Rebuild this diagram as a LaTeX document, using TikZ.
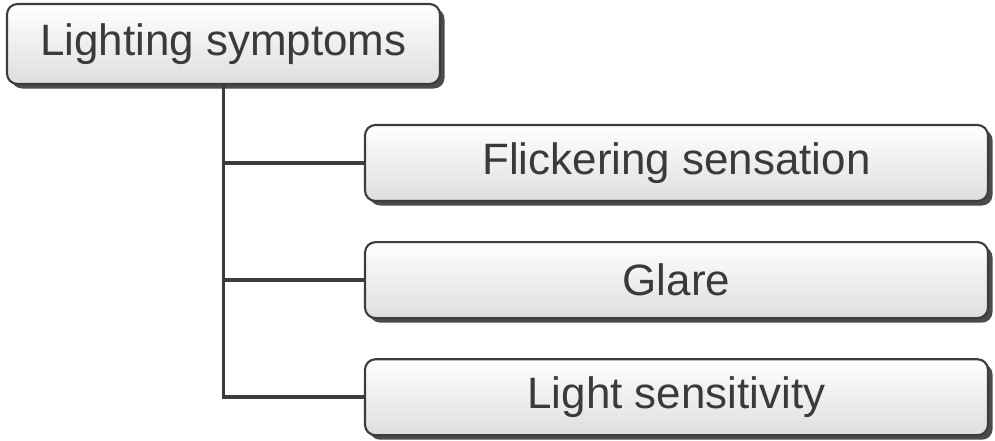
\documentclass[tikz,border=0pt]{standalone}
\usepackage{fontspec}
\setmainfont{Liberation Sans}
\usepackage{tikz}
\usetikzlibrary{positioning, shadows}
\definecolor{cText}{RGB}{58,58,58}
\definecolor{cEdge}{RGB}{60,60,60}
\definecolor{cShade}{RGB}{222,222,224}
\definecolor{cShadow}{RGB}{75,75,75}
\tikzset{
	box/.style   ={rectangle, rounded corners=6pt, draw=cEdge, line width=1.2pt, top color=white, bottom color=cShade, text=cText, align=center, font=\fontsize{25}{30}\selectfont, drop shadow={shadow xshift=0.09cm, shadow yshift=-0.09cm, fill=cShadow, opacity=1}},
	rootbox/.style={box, minimum width=8.66cm, minimum height=1.6cm},
	leaf/.style  ={box, minimum width=12.46cm, minimum height=1.52cm},
	branch/.style={line width=2pt, draw=cEdge},
}
\begin{document}
\begin{tikzpicture}
	\useasboundingbox (0,0) rectangle (19.9,-8.8);
	\node[rootbox] (root) at (4.47,-0.88) {Lighting symptoms};
	\node[leaf] (flick) at (13.53,-3.26) {Flickering sensation};
	\node[leaf, below=0.78cm of flick] (glare) {Glare};
	\node[leaf, below=0.78cm of glare] (sens) {Light sensitivity};
	\draw[branch] (root.south) |- (sens.west);
	\draw[branch] (root.south) |- (glare.west); \draw[branch] (root.south) |- (flick.west);
\end{tikzpicture}
\end{document}
